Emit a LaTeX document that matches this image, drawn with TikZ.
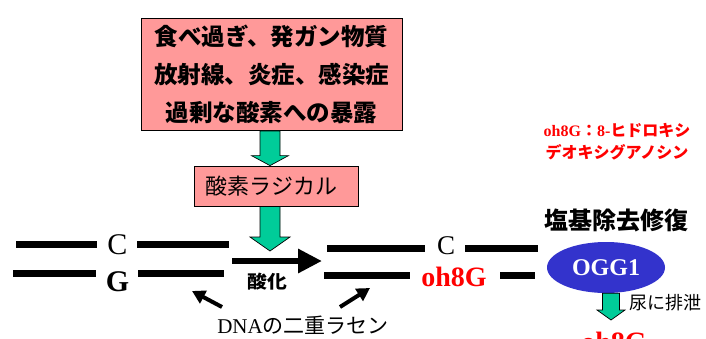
\documentclass[tikz,border=0pt]{standalone}
\usepackage{fontspec}
\setmainfont{Liberation Serif}
\newfontfamily\jp{Noto Sans CJK JP}
\usetikzlibrary{shapes.geometric,arrows.meta,calc}
\definecolor{pinkfill}{HTML}{FF9999}
\definecolor{gfill}{HTML}{00CC99}
\definecolor{ovalblue}{HTML}{3333CC}
\newcommand\garrow[5]{\draw[garr] let \p1=(#1), \p2=(#2) in
 (\x1-#3pt,\y1) -- (\x1-#3pt,\y2+#5pt) -- (\x1-#4pt,\y2+#5pt) -- (\x1,\y2) --
 (\x1+#4pt,\y2+#5pt) -- (\x1+#3pt,\y2+#5pt) -- (\x1+#3pt,\y1) -- cycle;}
\begin{document}
\begin{tikzpicture}[x=1pt,y=-1pt,
  pinkbox/.style={draw=black,line width=0.8pt,fill=pinkfill,inner sep=0pt},
  garr/.style={draw=black,line width=0.7pt,fill=gfill},
  strand/.style={line width=7pt},
  base/.style={inner sep=0pt,font=\fontsize{30}{30}\selectfont},
  redt/.style={text=red},
  smallarr/.style={line width=4pt,-{Triangle[length=13pt,width=14pt]}},
]
\useasboundingbox (0,0) rectangle (706,338);
% boxes
\node[pinkbox,minimum width=261pt,minimum height=112pt,align=center,
  font=\jp\bfseries\fontsize{23.5}{38}\selectfont] (box1) at (271.5,74.5)
  {食べ過ぎ、発ガン物質\\放射線、炎症、感染症\\過剰な酸素への暴露};
\node[pinkbox,minimum width=164pt,minimum height=40pt,
  font=\jp\fontsize{22}{22}\selectfont] (box2) at (276,186) {\hspace*{-9pt}酸素ラジカル};
% green arrows
\coordinate (ax) at (270,0);
\coordinate (tip2) at (270,251);
\garrow{box1.south -| ax}{box2.north -| ax}{10}{18.5}{10}
\garrow{box2.south -| ax}{tip2}{10}{20}{14}
% left strands
\coordinate (l1a) at (16,244); \coordinate (l1b) at (97,244);
\coordinate (l2a) at (137,244); \coordinate (l2b) at (229,244);
\coordinate (l3a) at (13,273); \coordinate (l3b) at (96,273);
\coordinate (l4a) at (138,273); \coordinate (l4b) at (224,273);
\draw[strand] (l1a) -- (l1b); \draw[strand] (l2a) -- (l2b);
\draw[strand] (l3a) -- (l3b); \draw[strand] (l4a) -- (l4b);
\node[base] (c1) at (117.5,245) {C};
\node[base,font=\bfseries\fontsize{30}{30}\selectfont] (g1) at (117.5,281.5) {G};
% right strands
\coordinate (r1a) at (327,248); \coordinate (r1b) at (425,248);
\coordinate (r2a) at (465,248.5); \coordinate (r2b) at (538,248.5);
\coordinate (r3a) at (324,275); \coordinate (r3b) at (410,275);
\coordinate (r4a) at (500,275); \coordinate (r4b) at (535,275);
\draw[strand] (r1a) -- (r1b); \draw[strand] (r2a) -- (r2b);
\draw[strand] (r3a) -- (r3b); \draw[strand] (r4a) -- (r4b);
\node[base,font=\fontsize{27}{27}\selectfont] (c2) at (446,246) {C};
\node[base,redt,font=\bfseries\fontsize{28}{28}\selectfont] (oh1) at (454,277) {oh8G};
% oxidation arrow
\coordinate (oxa) at (232,261); \coordinate (oxb) at (322,261);
\draw[line width=6pt,-{Triangle[length=24pt,width=23pt]}] (oxa) -- (oxb);
\node[inner sep=0pt,font=\jp\bfseries\fontsize{18}{18}\selectfont,xscale=1.1] (ox) at (267.5,282) {酸化};
% DNA label and arrows
\node[inner sep=0pt,font=\fontsize{21}{21}\selectfont] (dna) at (303,325) {DNA{\jp の二重ラセン}};
\coordinate (sa1) at (222,307); \coordinate (sa1t) at (192,291);
\coordinate (sa2) at (340,307); \coordinate (sa2t) at (370,288);
\draw[smallarr] (sa1) -- (sa1t);
\draw[smallarr] (sa2) -- (sa2t);
% right side
\node[redt,inner sep=0pt,align=center,font=\jp\bfseries\fontsize{16}{22}\selectfont] (note) at (617,142)
  {{\rmfamily oh8G}：{\rmfamily 8-}ヒドロキシ\\デオキシグアノシン};
\node[inner sep=0pt,font=\jp\bfseries\fontsize{24}{24}\selectfont] (ber) at (616,220) {塩基除去修復};
\node[ellipse,fill=ovalblue,minimum width=118pt,minimum height=51pt,inner sep=0pt,
  text=white,font=\bfseries\fontsize{24}{24}\selectfont] (ogg) at (606,267.5) {OGG1};
\coordinate (gx) at (611,0);
\coordinate (tip3) at (611,320);
\garrow{ogg.south -| gx}{tip3}{8.5}{14}{10}
\node[inner sep=0pt,font=\jp\fontsize{18}{18}\selectfont] (uri) at (665,303) {尿に排泄};
\node[redt,inner sep=0pt,font=\bfseries\fontsize{28}{28}\selectfont] (oh2) at (614,342) {oh8G};
\end{tikzpicture}
\end{document}
